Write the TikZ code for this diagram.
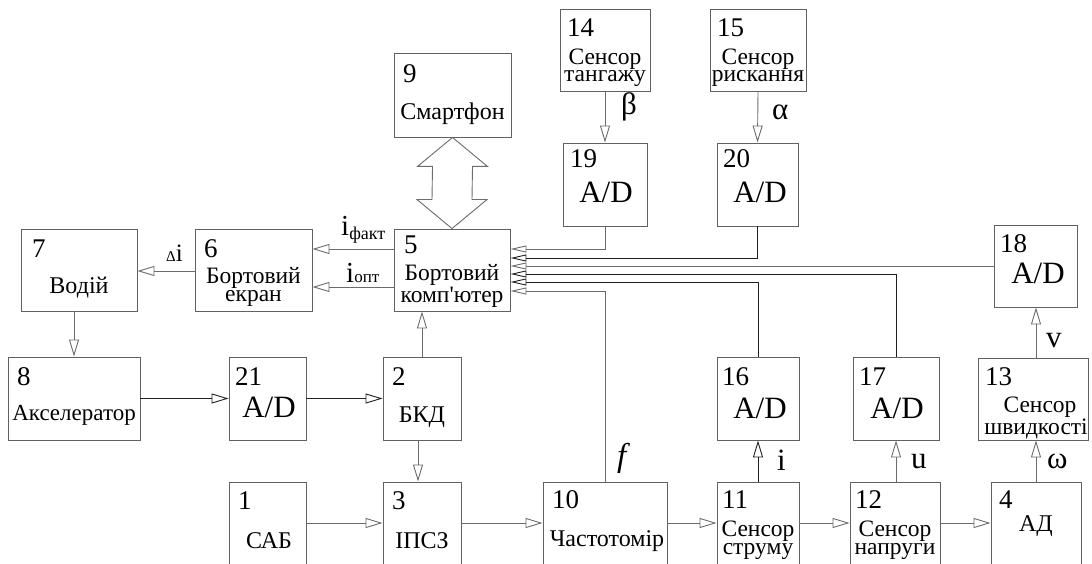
\documentclass[tikz,border=0pt]{standalone}
\usepackage{fontspec}
\setmainfont{Liberation Serif}
\usetikzlibrary{arrows.meta,calc}
\begin{document}
\begin{tikzpicture}[x=1pt,y=-1pt,
 box/.style={draw=black!62, line width=0.9pt, inner sep=0pt},
 num/.style={anchor=base west, inner sep=0pt, font=\fontsize{27}{27}\selectfont},
 txt/.style={anchor=base, inner sep=0pt, font=\fontsize{24}{24}\selectfont},
 two/.style={anchor=base, inner sep=0pt, align=center, font=\fontsize{23.5}{18}\selectfont},
 ad/.style={anchor=base, inner sep=0pt, font=\fontsize{31}{31}\selectfont},
 lbl/.style={anchor=base west, inner sep=0pt, font=\fontsize{31}{31}\selectfont},
 conn/.style={draw=black!58, line width=0.9pt},
 dark/.style={draw=black!88},
 arr/.style={conn, -{Triangle[open, length=17pt, width=10pt]}},
 arrn/.style={conn, -{Triangle[open, length=16pt, width=7pt]}},
]
\useasboundingbox (0,0) rectangle (1092,564);
\clip (0,0) rectangle (1092,564);

% ---- boxes ----
\node[box,minimum width=116pt,minimum height=82pt] (b7) at (79,270) {};
\node[num] (n7) at (32,257) {7};
\node[txt] (t7) at (79,293) {Водій};

\node[box,minimum width=117pt,minimum height=82pt] (b6) at (253.5,270) {};
\node[num] (n6) at (204,257) {6};
\node[two] (t6) at (253.5,301) {Бортовий\\екран};

\node[box,minimum width=116pt,minimum height=82pt] (b5) at (452,270) {};
\node[num] (n5) at (404,253) {5};
\node[two] (t5) at (452,302) {Бортовий\\комп\textquotesingle ютер};

\node[box,minimum width=117pt,minimum height=84pt] (b9) at (452.5,95) {};
\node[num] (n9) at (403,83) {9};
\node[txt] (t9) at (452.5,120) {Смартфон};

\node[box,minimum width=90pt,minimum height=82pt] (b14) at (605,50) {};
\node[num] (n14) at (567,37) {14};
\node[two,font=\fontsize{23.5}{17}\selectfont] (t14) at (605,82) {Сенсор\\тангажу};

\node[box,minimum width=96pt,minimum height=82pt] (b15) at (758,50) {};
\node[num] (n15) at (717,37) {15};
\node[two,font=\fontsize{23.5}{17}\selectfont] (t15) at (758,82) {Сенсор\\рискання};

\node[box,minimum width=84pt,minimum height=83pt] (b19) at (605,184.5) {};
\node[num] (n19) at (570,168) {19};
\node[ad] (t19) at (606,203) {A/D};

\node[box,minimum width=81pt,minimum height=83pt] (b20) at (757.5,184.5) {};
\node[num] (n20) at (723,168) {20};
\node[ad] (t20) at (760,203) {A/D};

\node[box,minimum width=83pt,minimum height=82pt] (b18) at (1035.5,266) {};
\node[num] (n18) at (1000,252) {18};
\node[ad] (t18) at (1038,283) {A/D};

\node[box,minimum width=110pt,minimum height=82pt] (b13) at (1033,399) {};
\node[num] (n13) at (985,385) {13};
\node[two,font=\fontsize{23.5}{19}\selectfont] (t13) at (1036,434) {\hspace*{8pt}Сенсор\\швидкості};

\node[box,minimum width=86pt,minimum height=83pt] (b17) at (896,398.5) {};
\node[num] (n17) at (859,385) {17};
\node[ad] (t17) at (897,418) {A/D};

\node[box,minimum width=82pt,minimum height=83pt] (b16) at (758,398.5) {};
\node[num] (n16) at (722,385) {16};
\node[ad] (t16) at (760,418) {A/D};

\node[box,minimum width=132pt,minimum height=83pt] (b8) at (74,398.5) {};
\node[num] (n8) at (17,385) {8};
\node[txt,font=\fontsize{23}{23}\selectfont] (t8) at (74,420) {Акселератор};

\node[box,minimum width=77pt,minimum height=83pt] (b21) at (267.5,398.5) {};
\node[num] (n21) at (235,385) {21};
\node[ad] (t21) at (269,417) {A/D};

\node[box,minimum width=78pt,minimum height=83pt] (b2) at (422,398.5) {};
\node[num] (n2) at (392,385) {2};
\node[txt] (t2) at (422,422) {БКД};

% bottom row (cut by the lower edge)
\node[box,minimum width=77pt,minimum height=90pt] (b1) at (267.5,527) {};
\node[num] (n1) at (238,509) {1};
\node[txt] (t1) at (269,548) {САБ};

\node[box,minimum width=78pt,minimum height=90pt] (b3) at (422,527) {};
\node[num] (n3) at (392,509) {3};
\node[txt] (t3) at (422,548) {ІПСЗ};

\node[box,minimum width=124pt,minimum height=90pt] (b10) at (605,527) {};
\node[num] (n10) at (552,508) {10};
\node[txt] (t10) at (607,546) {Частотомір};

\node[box,minimum width=82pt,minimum height=90pt] (b11) at (758,527) {};
\node[num] (n11) at (722,508) {11};
\node[two] (t11) at (758,554) {Сенсор\\струму};

\node[box,minimum width=90pt,minimum height=90pt] (b12) at (895,527) {};
\node[num] (n12) at (855,508) {12};
\node[two] (t12) at (895,554) {Сенсор\\напруги};

\node[box,minimum width=90pt,minimum height=90pt] (b4) at (1036,527) {};
\node[num] (n4) at (999,508) {4};
\node[txt] (t4) at (1036,531) {АД};

% ---- double arrow 9 <-> 5 ----
\draw[conn] (b9.south)
  -- ($(b9.south)+(35,29)$) -- ($(b9.south)+(20,29)$)
  -- ($(b5.north)+(20,-29)$) -- ($(b5.north)+(35,-29)$)
  -- (b5.north)
  -- ($(b5.north)+(-35,-29)$) -- ($(b5.north)+(-20,-29)$)
  -- ($(b9.south)+(-20,29)$) -- ($(b9.south)+(-35,29)$) -- cycle;

% ---- connectors ----
\draw[arr] ([yshift=21pt]b5.west) -- ([yshift=21pt]b5.west -| b6.east);
\draw[arr] ([yshift=-17pt]b5.west) -- ([yshift=-17pt]b5.west -| b6.east);
\draw[arr] ([yshift=-1pt]b6.west) -- ([yshift=-1pt]b6.west -| b7.east);
\draw[arr] (b7.south -| b8.north) -- (b8.north);
\draw[arr,dark] (b8.east) -- (b21.west);
\draw[arr,dark] (b21.east) -- (b2.west);
\draw[arr] (b2.north) -- (b2.north |- b5.south);
\draw[arr] ([xshift=-4pt]b2.south) -- ([xshift=-4pt]b3.north);
\draw[arr] ([yshift=4pt]b1.east) -- ([yshift=4pt]b3.west);
\draw[arr] ([yshift=4pt]b3.east) -- ([yshift=4pt]b10.west);
\draw[arr] ([yshift=4pt]b10.east) -- ([yshift=4pt]b11.west);
\draw[arr] ([yshift=4pt]b11.east) -- ([yshift=4pt]b12.west);
\draw[arr] ([yshift=4pt]b12.east) -- ([yshift=4pt]b4.west);
\draw[arr,dark] (b11.north) -- (b16.south);
\draw[arr] (b12.north -| b17.south) -- (b17.south);
\draw[arr] (b4.north) -- (b4.north |- b13.south);
\draw[arr] (b13.north -| b4.north) -- (b4.north |- b18.south);
\draw[arr] (b14.south) -- (b19.north);
\draw[arr] (b15.south) -- (b20.north);

\draw[arrn] (b19.south) |- ([yshift=21pt]b5.east);
\draw[arrn,dark] (b20.south) |- ([yshift=12pt]b5.east);
\draw[arrn] (b18.west) -- (b18.west -| b5.east);
\draw[arrn,dark] (b17.north) |- ([yshift=-4pt]b5.east);
\draw[arrn,dark] (b16.north) |- ([yshift=-12pt]b5.east);
\draw[arrn] (b10.north) |- ([yshift=-21pt]b5.east);

% ---- signal labels ----
\node[anchor=base west,inner sep=0pt] (lfakt) at (341,235)
  {\fontsize{29}{29}\selectfont i\fontsize{18}{18}\selectfont\raisebox{-5pt}{факт}};
\node[anchor=base west,inner sep=0pt] (lopt) at (346,282)
  {\fontsize{29}{29}\selectfont i\fontsize{17}{17}\selectfont опт};
\node[anchor=base west,inner sep=0pt] (ldi) at (166,261)
  {\fontsize{15}{15}\selectfont Δ\fontsize{25}{25}\selectfont i};
\node[lbl] (lbeta) at (621,115) {β};
\node[lbl] (lalpha) at (772,120) {α};
\node[lbl] (lv) at (1046,347) {v};
\node[lbl] (lomega) at (1047,468) {ω};
\node[lbl] (lu) at (911,468) {u};
\node[lbl] (li) at (777,470) {i};
\node[lbl,font=\fontsize{33}{33}\selectfont\itshape] (lf) at (617,466) {f};
\end{tikzpicture}
\end{document}
